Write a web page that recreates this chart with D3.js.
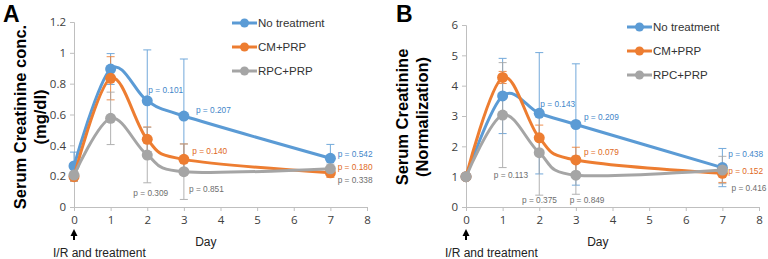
<!DOCTYPE html>
<html>
<head>
<meta charset="utf-8">
<script src="https://cdn.jsdelivr.net/npm/d3@7"></script>
<style>
  body { margin: 0; background: #fff; }
  svg { display: block; font-family: "Liberation Sans", Arial, sans-serif; }
</style>
</head>
<body>
<div id="chart"></div>
<script>
// days on the x axis
var days = [0, 1, 2, 3, 7];
var seriesNames = ["No treatment", "CM+PRP", "RPC+PRP"];
var seriesColors = ["#5B9BD5", "#ED7D31", "#A5A5A5"];
var labelColors = ["#3F86C9", "#E0691C", "#6E6E6E"];

// panel A: serum creatinine (mg/dl)
var aNoTreat = [0.266, 0.895, 0.689, 0.590, 0.316];
var aCM = [0.197, 0.835, 0.439, 0.309, 0.222];
var aRPC = [0.207, 0.575, 0.337, 0.229, 0.248];
var aNoTreatErr = [0.09, 0.10, 0.33, 0.37, 0.09];
var aCMErr = [0.03, 0.14, 0.08, 0.10, 0.03];
var aRPCErr = [0.04, 0.17, 0.18, 0.18, 0.03];
var aTicks = [0, 0.2, 0.4, 0.6, 0.8, 1, 1.2];
// p-value labels: [series, day, value, text]
var aPLabels = [
  [0, 2.03, 0.739, "p = 0.101"],
  [0, 3.33, 0.610, "p = 0.207"],
  [0, 7.20, 0.324, "p = 0.542"],
  [1, 3.23, 0.344, "p = 0.140"],
  [1, 7.20, 0.240, "p = 0.180"],
  [2, 1.62, 0.071, "p = 0.309"],
  [2, 3.14, 0.097, "p = 0.851"],
  [2, 7.20, 0.156, "p = 0.338"]
];

// panel B: normalized serum creatinine
var bNoTreat = [1.0, 3.66, 3.09, 2.72, 1.30];
var bCM = [1.0, 4.27, 2.28, 1.55, 1.11];
var bRPC = [1.0, 3.03, 1.79, 1.05, 1.22];
var bNoTreatErr = [0, 1.24, 2.0, 2.0, 0.63];
var bCMErr = [0, 0.20, 0.42, 0.42, 0.30];
var bRPCErr = [0, 1.73, 1.40, 0.63, 0.45];
var bTicks = [0, 1, 2, 3, 4, 5, 6];
var bPLabels = [
  [0, 2.03, 3.30, "p = 0.143"],
  [0, 3.22, 2.87, "p = 0.209"],
  [0, 7.16, 1.65, "p = 0.438"],
  [1, 3.22, 1.71, "p = 0.079"],
  [1, 7.16, 1.09, "p = 0.152"],
  [2, 0.76, 0.96, "p = 0.113"],
  [2, 1.53, 0.13, "p = 0.375"],
  [2, 2.83, 0.13, "p = 0.849"],
  [2, 7.25, 0.53, "p = 0.416"]
];
var xTicks = [0, 1, 2, 3, 4, 5, 6, 7, 8];

var svg = d3.select("#chart").append("svg")
  .attr("width", 768).attr("height", 259);

function drawPanel(cfg) {
  var g = svg.append("g");
  var x = d3.scaleLinear().domain([0, 8]).range([cfg.left, cfg.left + 293]);
  var y = d3.scaleLinear().domain([0, cfg.yMax]).range([207, cfg.top]);

  // panel letter
  g.append("text").attr("x", cfg.letterX).attr("y", 22)
    .style("font-size", "23px").style("font-weight", "bold").text(cfg.letter);

  // y title (two lines)
  cfg.yTitle.forEach(function (t, i) {
    g.append("text")
      .attr("transform", "translate(" + (cfg.titleX + i * 20) + ",117) rotate(-90)")
      .attr("text-anchor", "middle")
      .style("font-size", "16.5px").style("font-weight", "bold")
      .text(t);
  });

  // axes
  var yAxis = g.append("g").attr("transform", "translate(" + cfg.left + ",0)")
    .call(d3.axisLeft(y).tickValues(cfg.ticks).tickSize(4).tickPadding(4)
      .tickFormat(d3.format("")));
  var xAxis = g.append("g").attr("transform", "translate(0,207)")
    .call(d3.axisBottom(x).tickValues(xTicks).tickSize(4).tickPadding(5));
  [yAxis, xAxis].forEach(function (a) {
    a.selectAll("path, line").attr("stroke", "#BFBFBF");
    a.selectAll("text").attr("fill", "#404040").style("font-size", "11.5px")
      .style("font-family", "'Open Sans', sans-serif");
  });

  g.append("text").attr("x", x(3.6)).attr("y", 246).attr("text-anchor", "middle")
    .attr("fill", "#222").style("font-size", "12px").text("Day");

  // arrow at day 0
  g.append("line").attr("x1", x(0)).attr("x2", x(0)).attr("y1", 240).attr("y2", 234)
    .attr("stroke", "#000").attr("stroke-width", 2);
  g.append("path")
    .attr("d", "M" + (x(0) - 3.5) + ",236 L" + x(0) + ",229 L" + (x(0) + 3.5) + ",236 Z")
    .attr("fill", "#000");
  g.append("text").attr("x", x(0) - 21).attr("y", 257)
    .attr("fill", "#222").style("font-size", "12px").text("I/R and treatment");

  var line = d3.line()
    .x(function (d) { return x(d[0]); })
    .y(function (d) { return y(d[1]); })
    .curve(d3.curveCatmullRom.alpha(0));

  // error bars first, then lines and markers
  cfg.series.forEach(function (vals, s) {
    var errs = cfg.errs[s];
    var eb = g.append("g").attr("stroke", seriesColors[s]).attr("stroke-width", 1)
      .attr("opacity", 0.85);
    days.forEach(function (d, i) {
      if (!errs[i]) return;
      var lo = y(Math.max(0, vals[i] - errs[i])), hi = y(vals[i] + errs[i]);
      eb.append("line").attr("x1", x(d)).attr("x2", x(d)).attr("y1", lo).attr("y2", hi);
      eb.append("line").attr("x1", x(d) - 4).attr("x2", x(d) + 4).attr("y1", lo).attr("y2", lo);
      eb.append("line").attr("x1", x(d) - 4).attr("x2", x(d) + 4).attr("y1", hi).attr("y2", hi);
    });
  });
  cfg.series.forEach(function (vals, s) {
    var pts = days.map(function (d, i) { return [d, vals[i]]; });
    g.append("path").datum(pts).attr("d", line).attr("fill", "none")
      .attr("stroke", seriesColors[s]).attr("stroke-width", 3);
    g.selectAll(null).data(pts).enter().append("circle")
      .attr("cx", function (d) { return x(d[0]); })
      .attr("cy", function (d) { return y(d[1]); })
      .attr("r", 5.5).attr("fill", seriesColors[s]);
  });

  // p-value labels
  cfg.pLabels.forEach(function (p) {
    g.append("text").attr("x", x(p[1])).attr("y", y(p[2]))
      .attr("fill", labelColors[p[0]]).style("font-size", "8.3px").text(p[3]);
  });

  // legend
  seriesNames.forEach(function (n, s) {
    var ly = cfg.legendY + s * 24;
    g.append("line").attr("x1", cfg.legendX).attr("x2", cfg.legendX + 25)
      .attr("y1", ly).attr("y2", ly).attr("stroke", seriesColors[s]).attr("stroke-width", 3);
    g.append("circle").attr("cx", cfg.legendX + 12.5).attr("cy", ly).attr("r", 4.5)
      .attr("fill", seriesColors[s]);
    g.append("text").attr("x", cfg.legendX + 26).attr("y", ly + 4)
      .attr("fill", "#333").style("font-size", "11.5px").text(n);
  });
}

drawPanel({
  letter: "A", letterX: 3, left: 74, top: 22, yMax: 1.2, ticks: aTicks,
  titleX: 26, yTitle: ["Serum Creatinine conc.", "(mg/dl)"],
  series: [aNoTreat, aCM, aRPC], errs: [aNoTreatErr, aCMErr, aRPCErr],
  pLabels: aPLabels, legendX: 232, legendY: 23
});
drawPanel({
  letter: "B", letterX: 396, left: 466, top: 25, yMax: 6, ticks: bTicks,
  titleX: 408, yTitle: ["Serum Creatinine", "(Normalization)"],
  series: [bNoTreat, bCM, bRPC], errs: [bNoTreatErr, bCMErr, bRPCErr],
  pLabels: bPLabels, legendX: 627, legendY: 27
});
</script>
</body>
</html>
